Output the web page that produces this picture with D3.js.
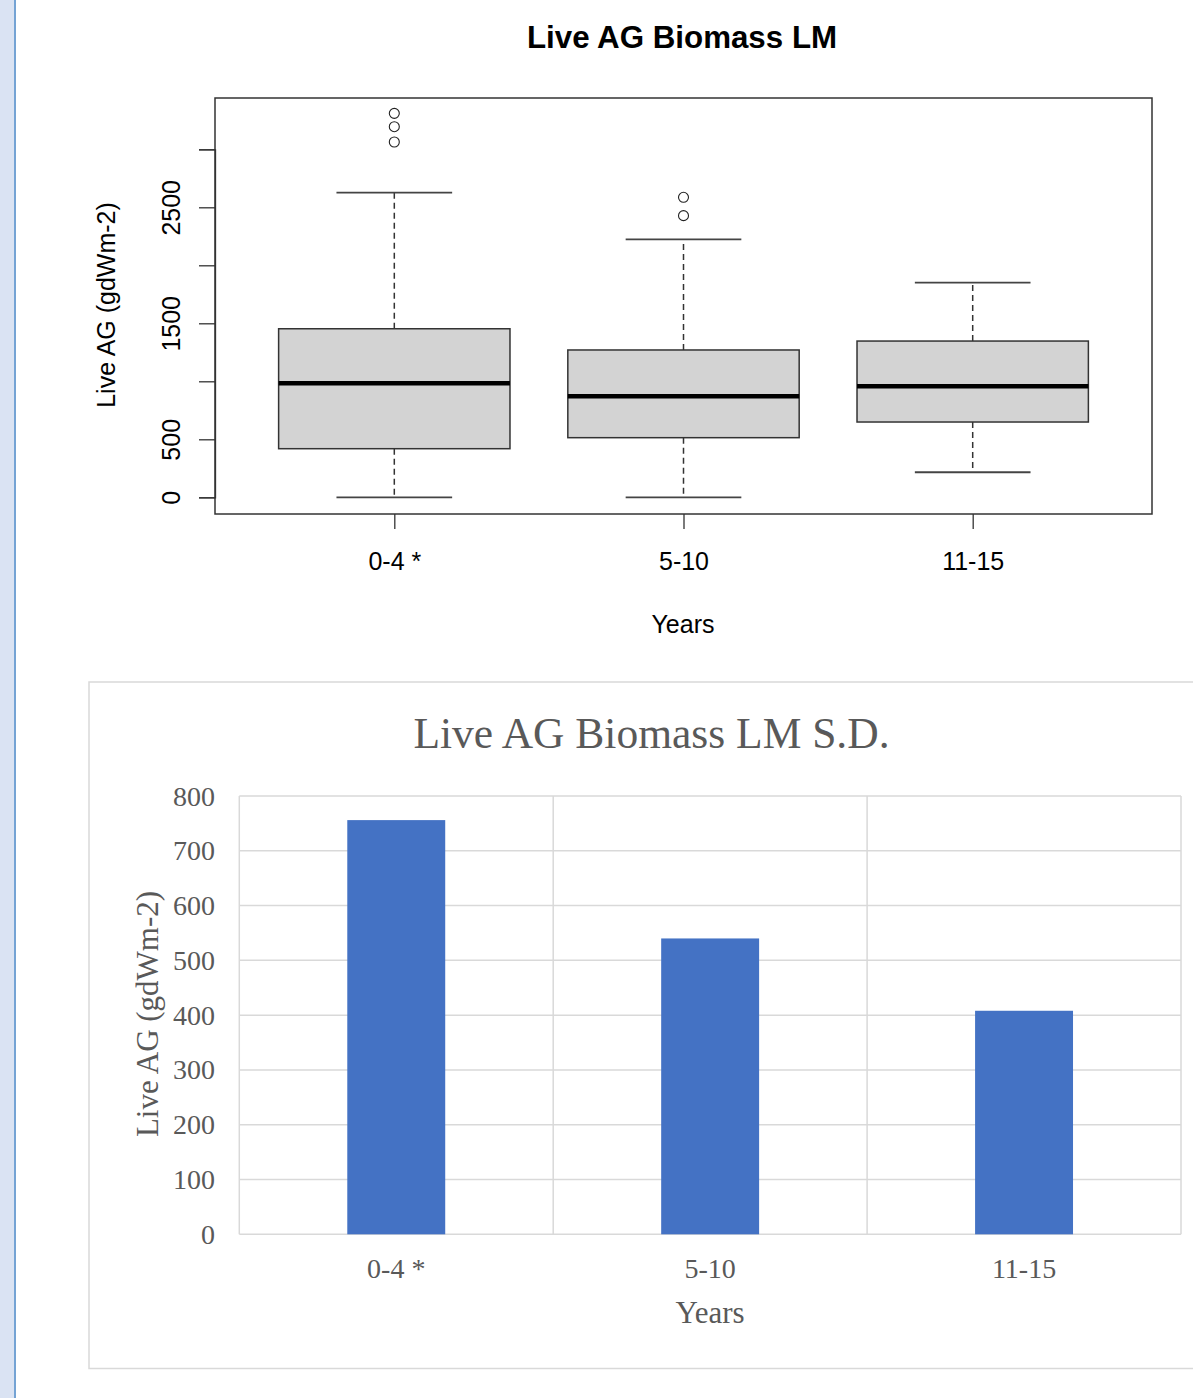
<!DOCTYPE html>
<html>
<head>
<meta charset="utf-8">
<script src="https://cdn.jsdelivr.net/npm/d3@7"></script>
<style>
  body { margin: 0; background: #fff; }
  svg { display: block; }
</style>
</head>
<body>
<script>
// box plot data (gdWm-2)
var categories = ["0-4 *", "5-10", "11-15"];
var whiskerLow = [0, 0, 216];
var q1 = [419, 514, 649];
var median = [983, 871, 957];
var q3 = [1453, 1270, 1347];
var whiskerHigh = [2626, 2224, 1850];
var outliers = [[3063, 3195, 3310], [2428, 2586], []];
var boxTicks = [0, 500, 1000, 1500, 2000, 2500, 3000];
var boxTickLabels = ["0", "500", "", "1500", "", "2500", ""];

// bar chart data (S.D.)
var sdValues = [756, 540, 408];
var barTicks = [0, 100, 200, 300, 400, 500, 600, 700, 800];

var width = 1193, height = 1398;

var svg = d3.select("body").append("svg")
    .attr("width", width)
    .attr("height", height);

// page strip on the left
svg.append("rect").attr("x", 0).attr("y", 0).attr("width", 14).attr("height", height).attr("fill", "#dae3f3");
svg.append("rect").attr("x", 14).attr("y", 0).attr("width", 2).attr("height", height).attr("fill", "#74a3d4");

drawBoxplot();
drawBars();

function drawBoxplot() {
    let left = 215, right = 1152, top = 98, bottom = 514;
    let g = svg.append("g").attr("font-family", "'Liberation Sans', Arial, sans-serif");

    let x = d3.scaleLinear().domain([0.38, 3.62]).range([left, right]);
    let y = d3.scaleLinear().domain([0, 3000]).range([497.3, 149.3]);

    let stats = categories.map((c, i) => ({
        cat: c, pos: i + 1,
        lo: whiskerLow[i], q1: q1[i], med: median[i], q3: q3[i], hi: whiskerHigh[i],
        out: outliers[i]
    }));

    let box = g.selectAll("g.box").data(stats).join("g").attr("class", "box");

    // dashed whiskers
    box.append("line")
        .attr("x1", d => x(d.pos)).attr("x2", d => x(d.pos))
        .attr("y1", d => y(d.q3)).attr("y2", d => y(d.hi))
        .attr("stroke", "#333").attr("stroke-width", 1.5).attr("stroke-dasharray", "6,4");
    box.append("line")
        .attr("x1", d => x(d.pos)).attr("x2", d => x(d.pos))
        .attr("y1", d => y(d.q1)).attr("y2", d => y(d.lo))
        .attr("stroke", "#333").attr("stroke-width", 1.5).attr("stroke-dasharray", "6,4");
    // whisker caps
    ["lo", "hi"].forEach(k => {
        box.append("line")
            .attr("x1", d => x(d.pos - 0.2)).attr("x2", d => x(d.pos + 0.2))
            .attr("y1", d => y(d[k])).attr("y2", d => y(d[k]))
            .attr("stroke", "#444").attr("stroke-width", 1.8);
    });
    // box
    box.append("rect")
        .attr("x", d => x(d.pos - 0.4))
        .attr("width", d => x(d.pos + 0.4) - x(d.pos - 0.4))
        .attr("y", d => y(d.q3))
        .attr("height", d => y(d.q1) - y(d.q3))
        .attr("fill", "#d3d3d3").attr("stroke", "#333").attr("stroke-width", 1.5);
    // median
    box.append("line")
        .attr("x1", d => x(d.pos - 0.4)).attr("x2", d => x(d.pos + 0.4))
        .attr("y1", d => y(d.med)).attr("y2", d => y(d.med))
        .attr("stroke", "#000").attr("stroke-width", 4.5);
    // outliers
    box.selectAll("circle").data(d => d.out.map(v => ({pos: d.pos, v: v}))).join("circle")
        .attr("cx", d => x(d.pos)).attr("cy", d => y(d.v)).attr("r", 5)
        .attr("fill", "none").attr("stroke", "#222").attr("stroke-width", 1.1);

    // frame
    g.append("rect").attr("x", left).attr("y", top)
        .attr("width", right - left).attr("height", bottom - top)
        .attr("fill", "none").attr("stroke", "#333").attr("stroke-width", 1.5);

    // y axis
    let yAxis = g.append("g").attr("transform", "translate(" + left + ",0)")
        .call(d3.axisLeft(y).tickValues(boxTicks).tickSize(16).tickFormat((d, i) => boxTickLabels[i]));
    yAxis.select(".domain").attr("stroke", "#333").attr("stroke-width", 1.3);
    yAxis.selectAll(".tick line").attr("stroke", "#333").attr("stroke-width", 1.3);
    yAxis.selectAll(".tick text")
        .attr("x", 0).attr("dy", null).attr("y", 0)
        .attr("transform", "translate(-35,0) rotate(-90)")
        .attr("text-anchor", "middle")
        .attr("font-size", 25).attr("fill", "#000");

    // x axis
    let xAxis = g.append("g").attr("transform", "translate(0," + bottom + ")")
        .call(d3.axisBottom(x).tickValues(stats.map(d => d.pos)).tickSize(15).tickFormat((d, i) => categories[i]));
    xAxis.select(".domain").remove();
    xAxis.selectAll(".tick line").attr("stroke", "#333").attr("stroke-width", 1.3);
    xAxis.selectAll(".tick text").attr("y", 56).attr("dy", null)
        .attr("font-size", 25).attr("fill", "#000");

    g.append("text").attr("x", 682).attr("y", 48).attr("text-anchor", "middle")
        .attr("font-size", 31.3).attr("font-weight", "bold").text("Live AG Biomass LM");
    g.append("text").attr("x", 683).attr("y", 633).attr("text-anchor", "middle")
        .attr("font-size", 25).text("Years");
    g.append("text").attr("transform", "translate(115,305) rotate(-90)").attr("text-anchor", "middle")
        .attr("font-size", 25).text("Live AG (gdWm-2)");
}

function drawBars() {
    let left = 239.3, right = 1181, top = 796, bottom = 1234.3;
    let grid = "#d9d9d9", textCol = "#595959";
    let g = svg.append("g").attr("font-family", "'Liberation Serif', 'Times New Roman', serif");

    g.append("rect").attr("x", 89).attr("y", 682).attr("width", 1200).attr("height", 686.5)
        .attr("fill", "#fff").attr("stroke", grid).attr("stroke-width", 1.5);

    let x = d3.scaleBand().domain(categories).range([left, right]).paddingInner(0.688).paddingOuter(0.344);
    let y = d3.scaleLinear().domain([0, 800]).range([bottom, top]);
    let step = x.step();

    // horizontal grid
    g.selectAll("line.h").data(barTicks).join("line").attr("class", "h")
        .attr("x1", left).attr("x2", right)
        .attr("y1", d => y(d)).attr("y2", d => y(d))
        .attr("stroke", grid).attr("stroke-width", 1.5);
    // vertical category grid
    let edges = [left].concat(categories.map(c => x(c) - step * 0.344 + step));
    g.selectAll("line.v").data(edges).join("line").attr("class", "v")
        .attr("x1", d => d).attr("x2", d => d)
        .attr("y1", top).attr("y2", bottom)
        .attr("stroke", grid).attr("stroke-width", 1.5);

    g.selectAll("rect.bar").data(sdValues).join("rect").attr("class", "bar")
        .attr("x", (d, i) => x(categories[i]))
        .attr("width", x.bandwidth())
        .attr("y", d => y(d))
        .attr("height", d => y(0) - y(d))
        .attr("fill", "#4472c4");

    // y tick labels
    g.selectAll("text.yt").data(barTicks).join("text").attr("class", "yt")
        .attr("x", 215).attr("y", d => y(d) + 9.5)
        .attr("text-anchor", "end").attr("font-size", 28).attr("fill", textCol)
        .text(d => d);
    // category labels
    g.selectAll("text.xt").data(categories).join("text").attr("class", "xt")
        .attr("x", d => x(d) + x.bandwidth() / 2).attr("y", 1278)
        .attr("text-anchor", "middle").attr("font-size", 28).attr("fill", textCol)
        .text(d => d);

    g.append("text").attr("x", 651.5).attr("y", 748).attr("text-anchor", "middle")
        .attr("font-size", 43.5).attr("fill", textCol).text("Live AG Biomass LM S.D.");
    g.append("text").attr("x", 710).attr("y", 1323).attr("text-anchor", "middle")
        .attr("font-size", 31).attr("fill", textCol).text("Years");
    g.append("text").attr("transform", "translate(158,1014) rotate(-90)").attr("text-anchor", "middle")
        .attr("font-size", 31).attr("fill", textCol).text("Live AG (gdWm-2)");
}
</script>
</body>
</html>
